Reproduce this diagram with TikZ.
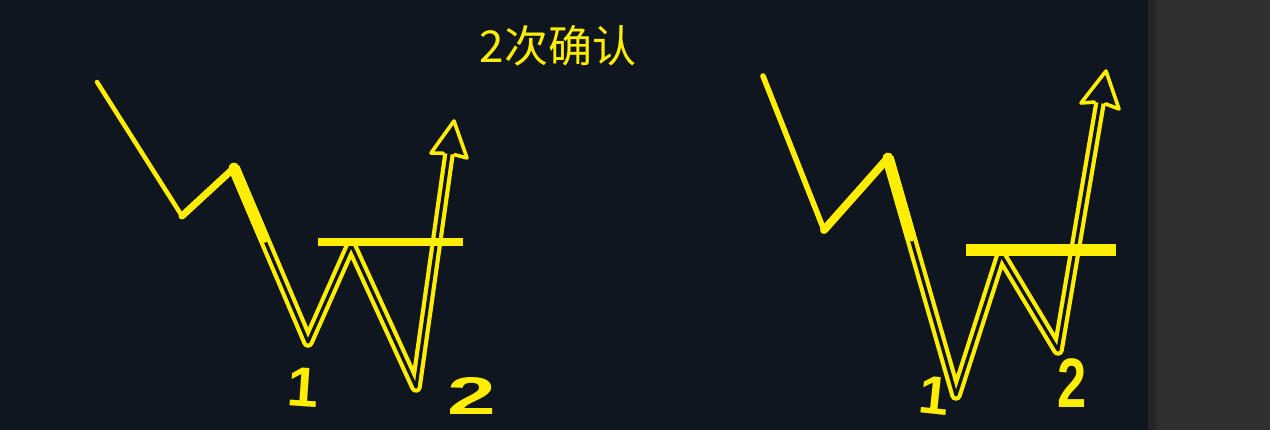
\documentclass[tikz,border=0pt]{standalone}
\usepackage{fontspec}
\newfontfamily\cjk{Noto Sans CJK SC}
\newfontfamily\hand{Liberation Sans}
\usetikzlibrary{calc}
\definecolor{bg}{HTML}{10161F}
\definecolor{yl}{HTML}{FFEE00}
\definecolor{side}{HTML}{2F2F2F}
\definecolor{sideedge}{HTML}{262628}
\tikzset{
  pen/.style={draw=yl, line cap=round, line join=round},
  dbl/.style={draw=yl, line width=4.2pt, double=bg, double distance=3.2pt, line join=round},
  head/.style={draw=yl, line width=3.6pt, line join=round, line cap=round},
  bar/.style={draw=yl},
  digit/.style={text=yl, inner sep=0pt, font=\hand\bfseries}
}
\begin{document}
\begin{tikzpicture}[x=1pt,y=-1pt]
\useasboundingbox (0,0) rectangle (1270,430);
\fill[bg] (0,0) rectangle (1270,430);
\fill[side] (1150,0) rectangle (1270,430);
\fill[sideedge] (1148,0) rectangle (1156,430);

\node[text=yl, inner sep=0pt, font=\cjk\fontsize{44}{44}\selectfont] (title) at (558,46) {2次确认};

% ---------- left figure ----------
\coordinate (a0) at (97,82);
\coordinate (a1) at (182,216);
\coordinate (a2) at (234,168);
\coordinate (a3) at (308,342);
\coordinate (a4) at (351,245);
\coordinate (a5) at (416,387);
\coordinate (a6) at (449,154);
\coordinate (atip) at (454,121);
\coordinate (al) at (431,153);
\coordinate (ar) at (467,158);
\draw[pen, line width=4.5pt] (a0) -- (a1);
\draw[pen, line width=7pt] (a1) -- (a2);
\draw[dbl] (a2) -- (a3) -- (a4) -- (a5) -- (a6);
\draw[pen, line width=11pt] (a2) -- ($(a2)!0.4!(a3)$);
\draw[head] ($(a6)+(-5.6,-0.7)$) -- (al) -- (atip) -- (ar) -- ($(a6)+(5.6,0.7)$);
\draw[bar, line width=7.5pt] (318,242) -- (463,242);
\node[digit, font=\hand\bfseries\fontsize{56}{56}\selectfont, rotate=-4] (l1) at (303,387) {1};
\node[digit, font=\hand\bfseries\fontsize{53}{53}\selectfont, xscale=1.65] (l2) at (472,396) {2};

% ---------- right figure ----------
\coordinate (b0) at (763,76);
\coordinate (b1) at (824,230);
\coordinate (b2) at (888,158);
\coordinate (b3) at (956,395);
\coordinate (b4) at (1001,255);
\coordinate (b5) at (1058,350);
\coordinate (b6) at (1100,103);
\coordinate (btip) at (1106,71);
\coordinate (bl) at (1081,103);
\coordinate (br) at (1119,109);
\draw[pen, line width=5.5pt] (b0) -- (b1);
\draw[pen, line width=8pt] (b1) -- (b2);
\draw[dbl] (b2) -- (b3) -- (b4) -- (b5) -- (b6);
\draw[pen, line width=11pt] (b2) -- ($(b2)!0.33!(b3)$);
\draw[head] ($(b6)+(-5.6,-0.9)$) -- (bl) -- (btip) -- (br) -- ($(b6)+(5.6,0.9)$);
\draw[bar, line width=12pt] (966,250) -- (1116,250);
\node[digit, font=\hand\bfseries\fontsize{54}{54}\selectfont, rotate=-6] (r1) at (934,396) {1};
\node[digit, font=\hand\bfseries\fontsize{70}{70}\selectfont, xscale=0.75] (r2) at (1072,383) {2};
\end{tikzpicture}
\end{document}
